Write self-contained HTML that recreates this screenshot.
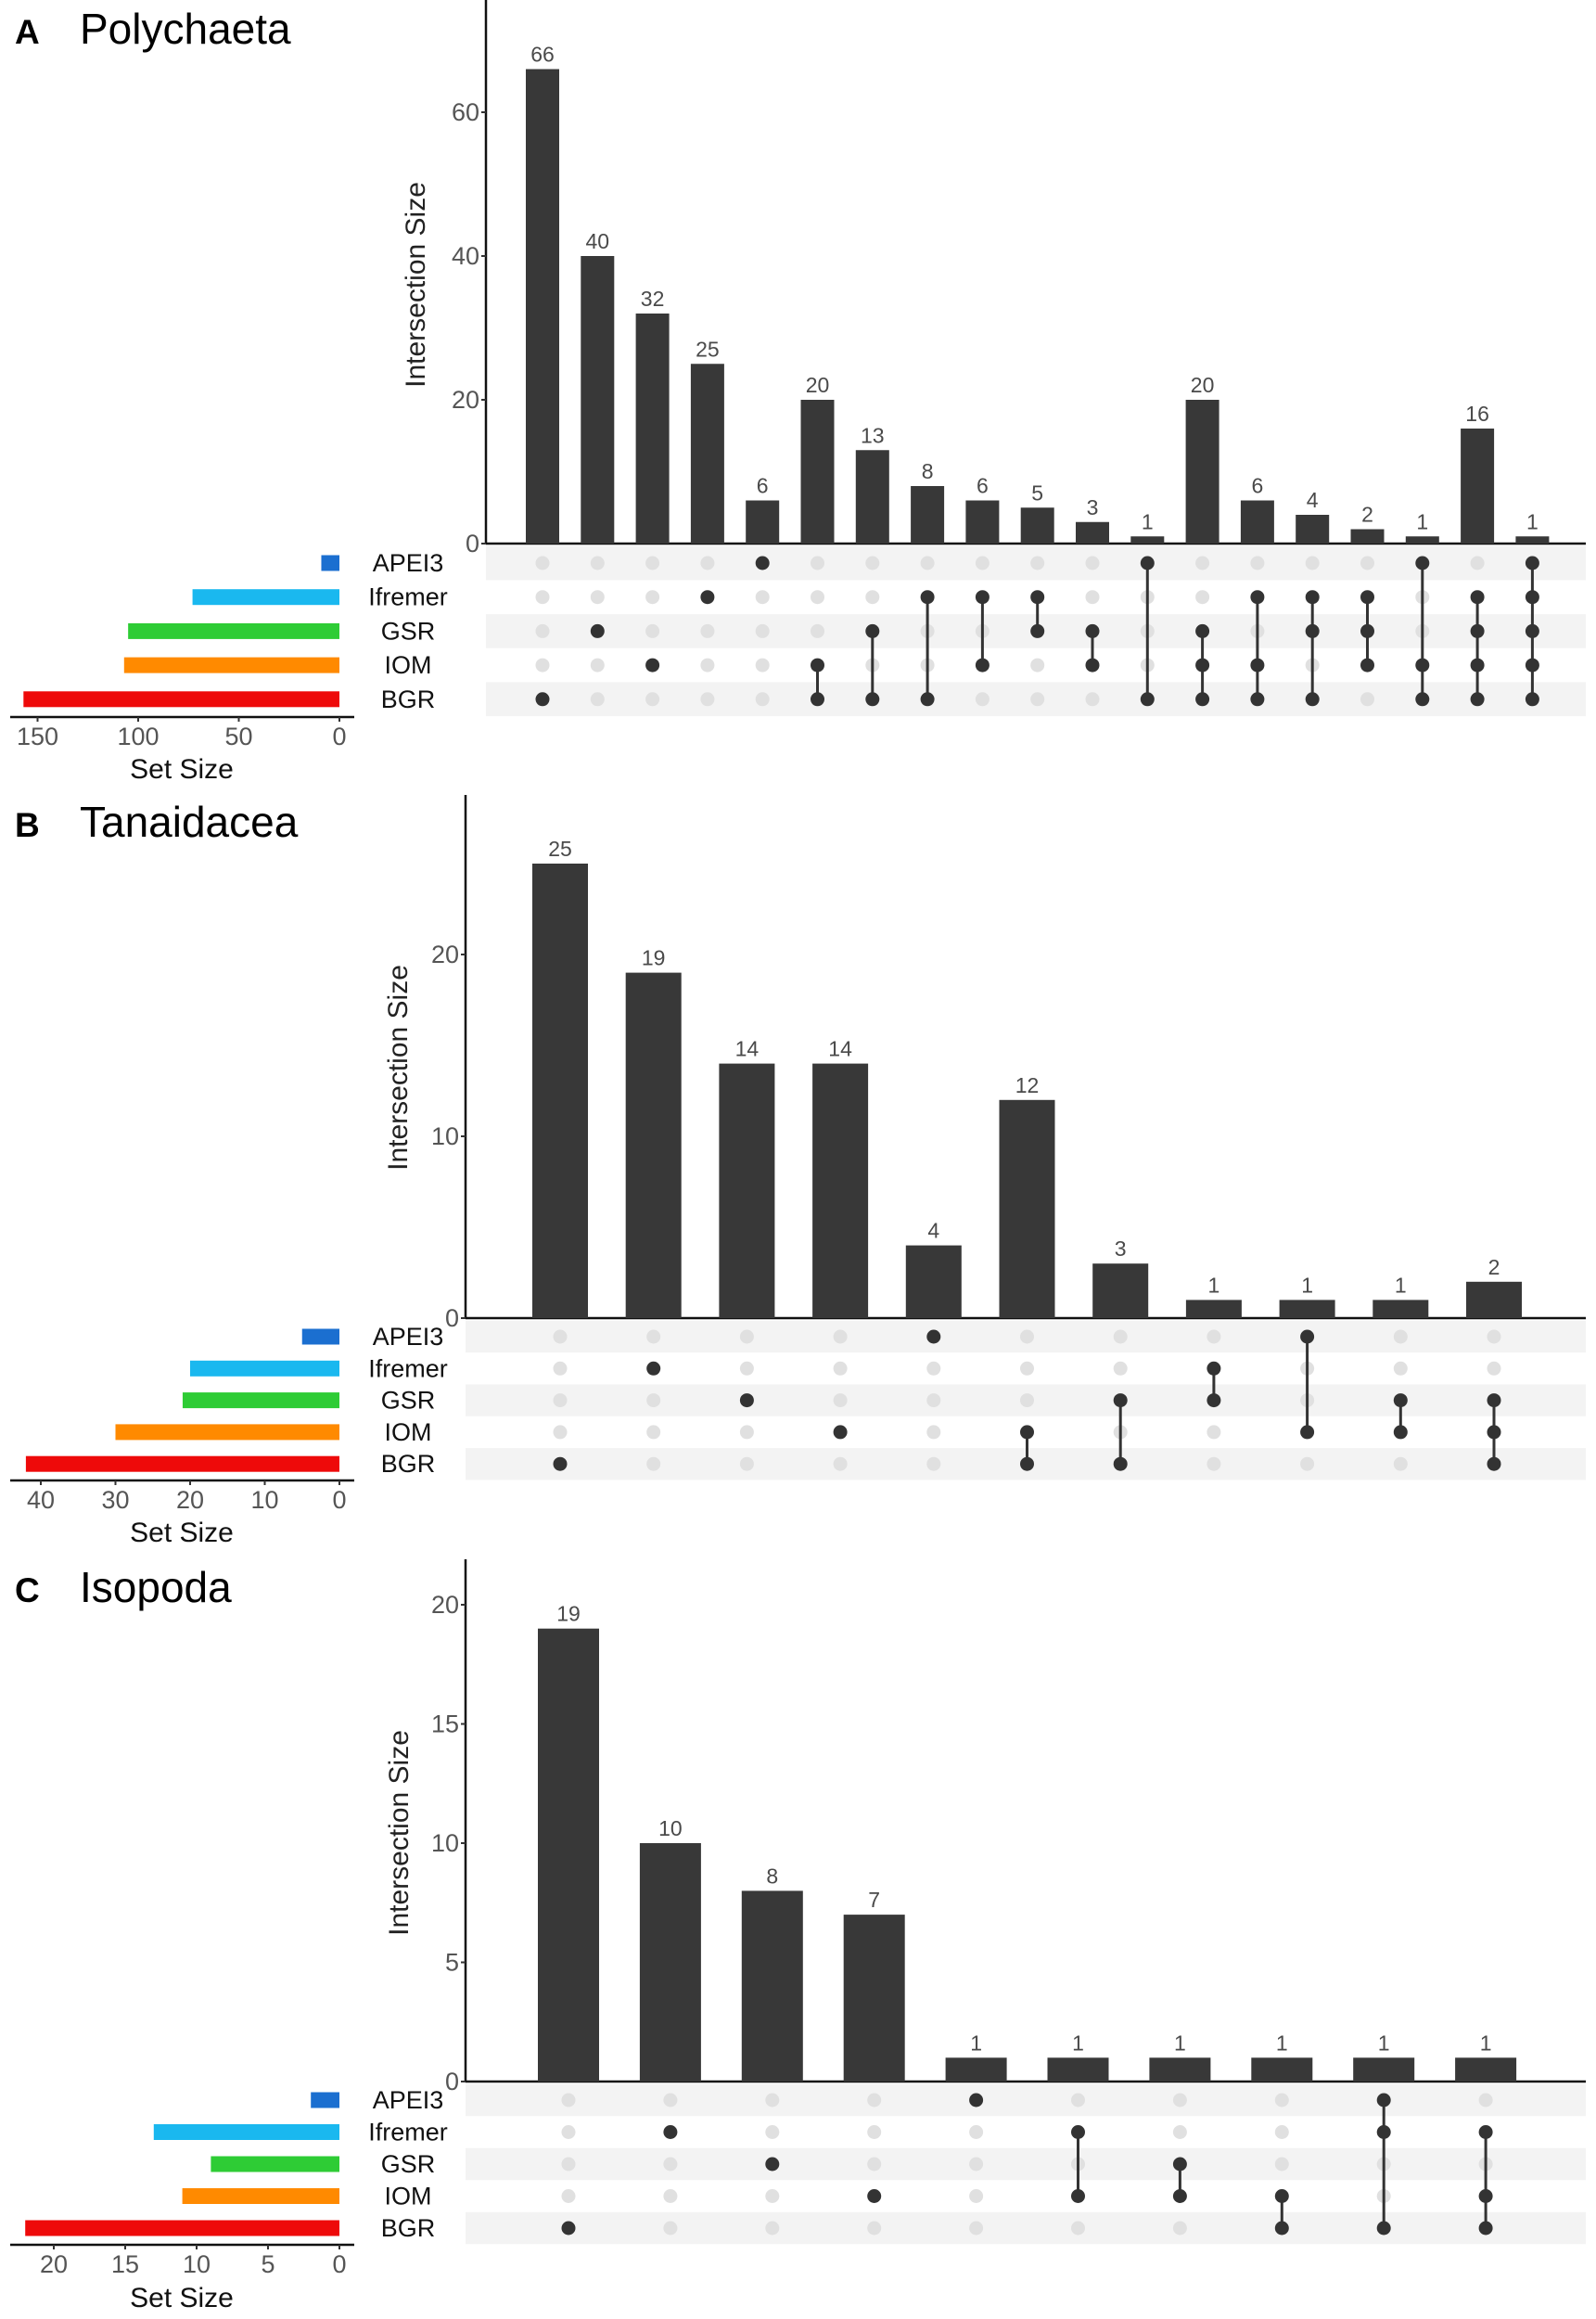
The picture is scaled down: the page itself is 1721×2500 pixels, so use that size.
<!DOCTYPE html>
<html><head><meta charset="utf-8">
<style>
html,body{margin:0;padding:0;background:#fff;}
svg{display:block;font-family:"Liberation Sans",sans-serif;}
</style></head>
<body>
<svg id="chart" width="1721" height="2500" viewBox="0 0 1721 2500" xmlns="http://www.w3.org/2000/svg"></svg>
<script>
const setNames = ["APEI3","Ifremer","GSR","IOM","BGR"];
const setColors = ["#1b6fd0","#1ab8ef","#2ecc35","#ff8a00","#ee0a0a"];

const polyValues = [66,40,32,25,6,20,13,8,6,5,3,1,20,6,4,2,1,16,1];
const polySets = [[4],[2],[3],[1],[0],[3,4],[2,4],[1,4],[1,3],[1,2],[2,3],[0,4],[2,3,4],[1,3,4],[1,2,4],[1,2,3],[0,3,4],[1,2,3,4],[0,1,2,3,4]];
const polySetSizes = [9,73,105,107,157];
const polyTicks = [0,20,40,60];
const polySetTicks = [0,50,100,150];

const tanValues = [25,19,14,14,4,12,3,1,1,1,2];
const tanSets = [[4],[1],[2],[3],[0],[3,4],[2,4],[1,2],[0,3],[2,3],[2,3,4]];
const tanSetSizes = [5,20,21,30,42];
const tanTicks = [0,10,20];
const tanSetTicks = [0,10,20,30,40];

const isoValues = [19,10,8,7,1,1,1,1,1,1];
const isoSets = [[4],[1],[2],[3],[0],[1,3],[2,3],[3,4],[0,1,4],[1,3,4]];
const isoSetSizes = [2,13,9,11,22];
const isoTicks = [0,5,10,15,20];
const isoSetTicks = [0,5,10,15,20];

const svg = document.getElementById('chart');
const NS = "http://www.w3.org/2000/svg";
function mk(tag, attrs, parent, text){
  const e = document.createElementNS(NS, tag);
  for (const k in attrs) e.setAttribute(k, attrs[k]);
  if (text !== undefined) e.textContent = text;
  (parent || svg).appendChild(e);
  return e;
}

function panel(cfg, values, sets, setSizes, ticks, setTicks){
  const g = mk('g', {});
  
  
  const yS = v => cfg.base - v * cfg.ppu;
  const xS = i => cfg.x0 + i * cfg.step;
  const rowY = r => cfg.row0 + r * cfg.rowStep;
  const sS = v => 366 - v * cfg.sppu;

  const t1 = mk('text', {x:16, y:cfg.titleY, 'font-size':37, 'font-weight':'bold', fill:'#000'}, g, cfg.letter);
  
  
  const t2 = mk('text', {x:86, y:cfg.titleY, 'font-size':46, fill:'#000'}, g, cfg.title);
  
  

  for (let r = 0; r < 5; r += 2){
    const s = mk('rect', {x:cfg.axisX, y:rowY(r) - cfg.rowStep/2, width:1710 - cfg.axisX, height:cfg.rowStep, fill:'#f3f3f3'}, g);
    
    
  }

  const ax = mk('line', {x1:cfg.axisX, y1:cfg.axisTop, x2:cfg.axisX, y2:cfg.base, stroke:'#111', 'stroke-width':2.5}, g);
  
  
  const bx = mk('line', {x1:cfg.axisX, y1:cfg.base, x2:1710, y2:cfg.base, stroke:'#111', 'stroke-width':2.5}, g);
  
  
  ticks.forEach(v => {
    const tk = mk('line', {x1:cfg.axisX - 5, y1:yS(v), x2:cfg.axisX, y2:yS(v), stroke:'#333', 'stroke-width':2}, g);
    
    
    const tl = mk('text', {x:cfg.axisX - 7, y:yS(v) + 9, 'font-size':27, fill:'#555', 'text-anchor':'end'}, g, String(v));
    
    
  });
  const yt = mk('text', {x:0, y:0, 'font-size':30, fill:'#222', 'text-anchor':'middle', transform:`translate(${cfg.yTitleX},${cfg.yTitleY}) rotate(-90)`}, g, 'Intersection Size');
  
  

  values.forEach((v, i) => {
    const b = mk('rect', {x:xS(i) - cfg.bw/2, y:yS(v), width:cfg.bw, height:cfg.base - yS(v), fill:'#383838'}, g);
    
    
    const l = mk('text', {x:xS(i), y:yS(v) - 8, 'font-size':23, fill:'#4a4a4a', 'text-anchor':'middle'}, g, String(v));
    
    
  });

  sets.forEach((mem, i) => {
    for (let r = 0; r < 5; r++){
      if (mem.indexOf(r) < 0){
        const d = mk('circle', {cx:xS(i), cy:rowY(r), r:7.5, fill:'#e0e0e0'}, g);
        
        
      }
    }
    const lo = Math.min(...mem), hi = Math.max(...mem);
    if (hi > lo){
      const ln = mk('line', {x1:xS(i), y1:rowY(lo), x2:xS(i), y2:rowY(hi), stroke:'#333', 'stroke-width':3}, g);
      
      
    }
    mem.forEach(r => {
      const d = mk('circle', {cx:xS(i), cy:rowY(r), r:7.5, fill:'#333'}, g);
      
      
    });
  });

  setSizes.forEach((v, r) => {
    const b = mk('rect', {x:sS(v), y:rowY(r) - 8.5, width:366 - sS(v), height:17, fill:setColors[r]}, g);
    
    
    const l = mk('text', {x:440, y:rowY(r) + 9, 'font-size':27, fill:'#111', 'text-anchor':'middle'}, g, setNames[r]);
    
    
  });
  const sl = mk('line', {x1:11, y1:cfg.setAxisY, x2:382, y2:cfg.setAxisY, stroke:'#111', 'stroke-width':2.5}, g);
  
  
  setTicks.forEach(v => {
    const tk = mk('line', {x1:sS(v), y1:cfg.setAxisY, x2:sS(v), y2:cfg.setAxisY + 5, stroke:'#333', 'stroke-width':2}, g);
    
    
    const tl = mk('text', {x:sS(v), y:cfg.setAxisY + 30, 'font-size':27, fill:'#555', 'text-anchor':'middle'}, g, String(v));
    
    
  });
  const st = mk('text', {x:196, y:cfg.setTitleY + 10, 'font-size':30, fill:'#111', 'text-anchor':'middle'}, g, 'Set Size');
  
  
}

panel({id:'polychaeta', letter:'A', title:'Polychaeta', titleY:47, axisX:524, axisTop:0, base:586, ppu:7.75,
  x0:585, step:59.3, bw:36, row0:607, rowStep:36.7, sppu:2.17, setAxisY:773, setTitleY:829, yTitleX:458, yTitleY:307},
  polyValues, polySets, polySetSizes, polyTicks, polySetTicks);
panel({id:'tanaidacea', letter:'B', title:'Tanaidacea', titleY:902, axisX:502, axisTop:857, base:1421, ppu:19.6,
  x0:604, step:100.7, bw:60, row0:1441, rowStep:34.3, sppu:8.05, setAxisY:1596, setTitleY:1652, yTitleX:439, yTitleY:1151},
  tanValues, tanSets, tanSetSizes, tanTicks, tanSetTicks);
panel({id:'isopoda', letter:'C', title:'Isopoda', titleY:1727, axisX:502, axisTop:1681, base:2244, ppu:25.7,
  x0:613, step:109.9, bw:66, row0:2264, rowStep:34.5, sppu:15.4, setAxisY:2420, setTitleY:2477, yTitleX:440, yTitleY:1976},
  isoValues, isoSets, isoSetSizes, isoTicks, isoSetTicks);
</script>
</body></html>
